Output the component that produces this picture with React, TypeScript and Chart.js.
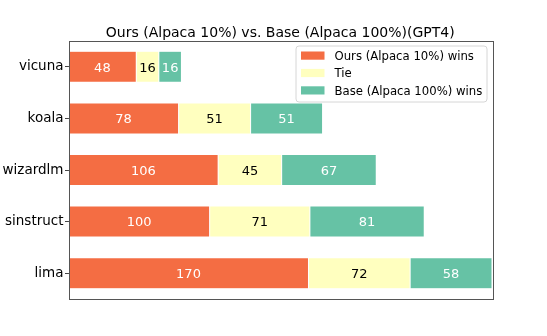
import React, { useEffect, useRef } from "react";
import { Chart, registerables } from "chart.js";

Chart.register(...registerables);

const titleText = "Ours (Alpaca 10%) vs. Base (Alpaca 100%)(GPT4)";
const categories = ["vicuna", "koala", "wizardlm", "sinstruct", "lima"];
const oursWins = [48, 78, 106, 100, 170];
const ties = [16, 51, 45, 71, 72];
const baseWins = [16, 51, 67, 81, 58];
const seriesLabels = ["Ours (Alpaca 10%) wins", "Tie", "Base (Alpaca 100%) wins"];
const seriesColors = ["#f46d43", "#ffffbf", "#66c2a5"];
const labelColors = ["#ffffff", "#000000", "#ffffff"];
const xMax = 300;

const FONT = "'DejaVu Sans', 'Noto Sans', sans-serif";

const decor = {
  id: "decor",
  afterDatasetsDraw(chart: any) {
    const ctx = chart.ctx;
    ctx.save();
    ctx.font = `13px ${FONT}`;
    ctx.textAlign = "center";
    ctx.textBaseline = "alphabetic";
    chart.data.datasets.forEach((ds: any, i: number) => {
      const meta = chart.getDatasetMeta(i);
      meta.data.forEach((el: any, j: number) => {
        const cx = (el.x + el.base) / 2;
        ctx.fillStyle = labelColors[i];
        ctx.fillText(String(ds.data[j]), cx, el.y + 4.7);
      });
    });
    ctx.restore();
  },
  afterDraw(chart: any) {
    const ctx = chart.ctx;
    const a = chart.chartArea;
    ctx.save();
    // frame
    ctx.strokeStyle = "#555555";
    ctx.lineWidth = 1;
    ctx.strokeRect(Math.round(a.left) + 0.5, Math.round(a.top) + 0.5, Math.round(a.right - a.left), Math.round(a.bottom - a.top));
    // title
    ctx.fillStyle = "#000";
    ctx.font = `14px ${FONT}`;
    ctx.textAlign = "center";
    ctx.textBaseline = "alphabetic";
    ctx.fillText(titleText, (a.left + a.right) / 2, 36.7);
    // legend
    const bx = 296, by = 46, bw = 191, bh = 56, r = 3;
    ctx.beginPath();
    ctx.moveTo(bx + r, by);
    ctx.lineTo(bx + bw - r, by);
    ctx.quadraticCurveTo(bx + bw, by, bx + bw, by + r);
    ctx.lineTo(bx + bw, by + bh - r);
    ctx.quadraticCurveTo(bx + bw, by + bh, bx + bw - r, by + bh);
    ctx.lineTo(bx + r, by + bh);
    ctx.quadraticCurveTo(bx, by + bh, bx, by + bh - r);
    ctx.lineTo(bx, by + r);
    ctx.quadraticCurveTo(bx, by, bx + r, by);
    ctx.closePath();
    ctx.fillStyle = "rgba(255,255,255,0.8)";
    ctx.fill();
    ctx.strokeStyle = "#d6d6d6";
    ctx.lineWidth = 1;
    ctx.stroke();
    ctx.font = `11.7px ${FONT}`;
    ctx.textAlign = "left";
    chart.data.datasets.forEach((ds: any, i: number) => {
      const cy = 55.6 + i * 17.4;
      ctx.fillStyle = ds.backgroundColor;
      ctx.fillRect(301, cy - 4.1, 23.5, 8.2);
      ctx.fillStyle = "#000";
      ctx.fillText(ds.label, 334.5, cy + 4.2);
    });
    ctx.restore();
  },
};

export default function App() {
  const ref = useRef<HTMLCanvasElement | null>(null);
  useEffect(() => {
    if (!ref.current) return;
    const datasets = [oursWins, ties, baseWins].map((d, i) => ({
      label: seriesLabels[i],
      data: d,
      backgroundColor: seriesColors[i],
      borderColor: "rgba(255,255,255,0.5)",
      borderWidth: 0.5,
      borderSkipped: false,
      barPercentage: 0.6,
      categoryPercentage: 1,
    }));
    const chart = new Chart(ref.current, {
      type: "bar",
      data: { labels: categories, datasets },
      plugins: [decor],
      options: {
        indexAxis: "y",
        responsive: false,
        animation: false,
        layout: { padding: { left: 0, top: 41, right: 55, bottom: 37 } },
        plugins: {
          legend: { display: false },
          title: { display: false },
          tooltip: { enabled: false },
        },
        scales: {
          x: { stacked: true, min: 0, max: xMax, display: false },
          y: {
            stacked: true,
            offset: true,
            grid: {
              display: true,
              offset: false,
              drawOnChartArea: false,
              drawTicks: true,
              tickLength: 3.5,
              color: "#444",
            },
            border: { display: false },
            ticks: {
              font: { family: FONT, size: 13.5 },
              color: "#000",
              padding: 1.5,
            },
            afterFit: (s: any) => {
              s.width = 68.5;
            },
          },
        },
      },
    } as any);
    return () => chart.destroy();
  }, []);
  return (
    <div style={{ position: "fixed", left: 0, top: 0, width: 547, height: 336, background: "#fff" }}>
      <canvas ref={ref} width={547} height={336} style={{ display: "block", width: 547, height: 336 }} />
    </div>
  );
}
